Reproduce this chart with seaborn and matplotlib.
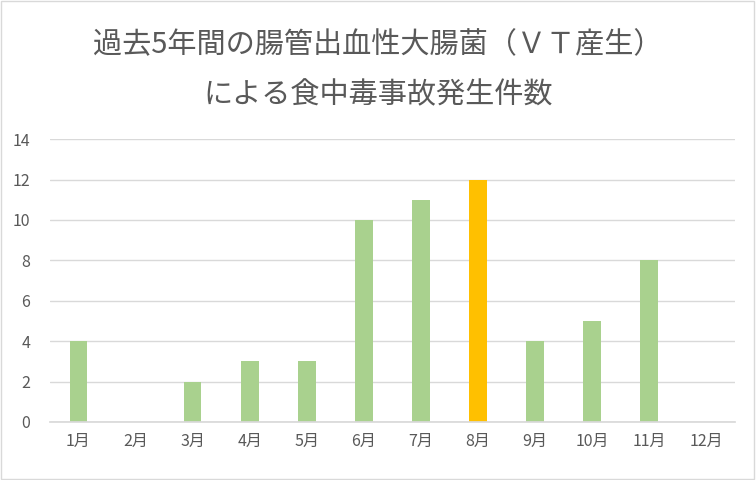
import pandas as pd
import seaborn as sns
import matplotlib.pyplot as plt

months = ["1月", "2月", "3月", "4月", "5月", "6月", "7月", "8月", "9月", "10月", "11月", "12月"]
counts = [4, 0, 2, 3, 3, 10, 11, 12, 4, 5, 8, 0]
highlight = "8月"
title_lines = ["過去5年間の腸管出血性大腸菌（ＶＴ産生）", "による食中毒事故発生件数"]

sns.set_theme(style="white")
plt.rcParams["font.family"] = ["Noto Sans CJK JP", "DejaVu Sans"]

df = pd.DataFrame({"month": months, "count": counts})
palette = {m: ("#FFC000" if m == highlight else "#A9D18E") for m in months}

fig = plt.figure(figsize=(7.56, 4.8), dpi=100)
ax = fig.add_axes([0.066, 0.121, 0.906, 0.589])

sns.barplot(data=df, x="month", y="count", hue="month", palette=palette,
            width=0.31, legend=False, ax=ax, saturation=1, linewidth=0)

ax.set_ylim(0, 14)
ax.set_yticks(range(0, 15, 2))
ax.yaxis.grid(True, color="#D9D9D9", linewidth=1)
ax.set_axisbelow(True)
for s in ["top", "right", "left"]:
    ax.spines[s].set_visible(False)
ax.spines["bottom"].set_color("#D9D9D9")
ax.set_xlabel("")
ax.set_ylabel("")
ax.tick_params(axis="both", colors="#595959", labelsize=11.5, length=0, pad=8)
ax.tick_params(axis="y", pad=14)

fig.text(0.5, 0.906, title_lines[0], ha="center", va="center", fontsize=21, color="#595959")
fig.text(0.5, 0.802, title_lines[1], ha="center", va="center", fontsize=21, color="#595959")

fig.patches.append(plt.Rectangle((0.001, 0.002), 0.997, 0.995, transform=fig.transFigure,
                                 fill=False, edgecolor="#D9D9D9", linewidth=1))

fig.savefig("out.png", dpi=100)
